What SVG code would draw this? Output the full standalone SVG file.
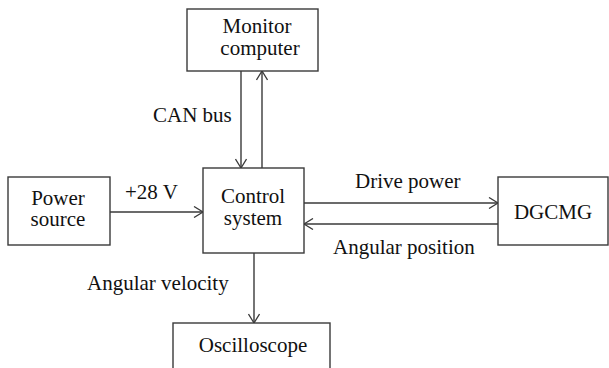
<svg xmlns="http://www.w3.org/2000/svg" width="609" height="368" viewBox="0 0 609 368">
<defs>
<marker id="ah" viewBox="0 0 10 12" refX="10" refY="6" markerWidth="10" markerHeight="12" markerUnits="userSpaceOnUse" orient="auto">
<path d="M1,0.5 L10,6 L1,11.5" fill="none" stroke="#3a3a3a" stroke-width="1.3"/>
</marker>
</defs>
<style>
.box{fill:#fff;stroke:#3a3a3a;stroke-width:1.4}
.ln{fill:none;stroke:#3a3a3a;stroke-width:1.4;marker-end:url(#ah)}
text{font-family:"Liberation Serif","Times New Roman",serif;font-size:21px;fill:#111}
.c{text-anchor:middle}
</style>
<rect width="609" height="368" fill="#fff"/>
<g id="connectors">
<line class="ln" x1="241" y1="71" x2="241" y2="168"/>
<line class="ln" x1="262" y1="168" x2="262" y2="71"/>
<line class="ln" x1="110" y1="212" x2="203" y2="212"/>
<line class="ln" x1="304" y1="203" x2="498" y2="203"/>
<line class="ln" x1="498" y1="224" x2="304" y2="224"/>
<line class="ln" x1="254" y1="253" x2="254" y2="323"/>
<text x="153" y="122">CAN bus</text>
<text x="125" y="199">+28 V</text>
<text x="355" y="188">Drive power</text>
<text x="333" y="254">Angular position</text>
<text x="87" y="290">Angular velocity</text>
</g>
<g id="monitor">
<rect class="box" x="187" y="9" width="131" height="62"/>
<text class="c" x="257" y="33">Monitor</text>
<text class="c" x="260" y="55">computer</text>
</g>
<g id="power">
<rect class="box" x="8" y="177" width="102" height="68"/>
<text class="c" x="58" y="205">Power</text>
<text class="c" x="58" y="226">source</text>
</g>
<g id="control">
<rect class="box" x="203" y="168" width="101" height="85"/>
<text class="c" x="253" y="203">Control</text>
<text class="c" x="253" y="225">system</text>
</g>
<g id="dgcmg">
<rect class="box" x="498" y="177" width="110" height="68"/>
<text class="c" x="553" y="219">DGCMG</text>
</g>
<g id="oscilloscope">
<rect class="box" x="173" y="323" width="157" height="50"/>
<text class="c" x="253" y="352">Oscilloscope</text>
</g>
</svg>
